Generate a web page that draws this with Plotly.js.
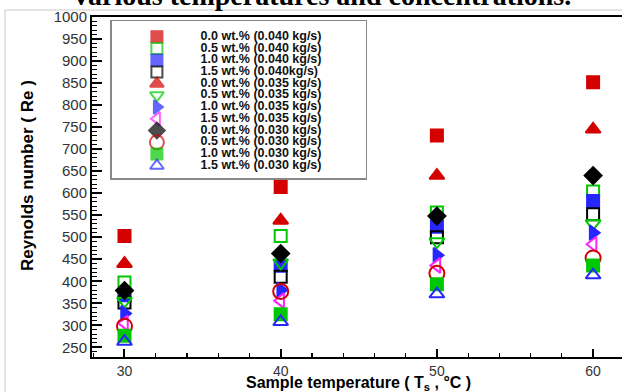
<!DOCTYPE html>
<html><head><meta charset="utf-8">
<script src="https://cdn.plot.ly/plotly-3.0.1.min.js"></script>
<style>html,body{margin:0;padding:0;background:#fff}#chart{width:622px;height:392px}</style>
</head><body><div id="chart"></div>
<script>
// ---- data ----
const temperatures = [30, 40, 50, 60];
const seriesLabels = [
  "0.0 wt.% (0.040 kg/s)", "0.5 wt.% (0.040 kg/s)", "1.0 wt.% (0.040 kg/s)", "1.5 wt.% (0.040kg/s)",
  "0.0 wt.% (0.035 kg/s)", "0.5 wt.% (0.035 kg/s)", "1.0 wt.% (0.035 kg/s)", "1.5 wt.% (0.035 kg/s)",
  "0.0 wt.% (0.030 kg/s)", "0.5 wt.% (0.030 kg/s)", "1.0 wt.% (0.030 kg/s)", "1.5 wt.% (0.030 kg/s)"
];
const re_00_040 = [503, 614, 731, 852];
const re_05_040 = [397, 503, 556, 604];
const re_10_040 = [368, 435, 524, 582];
const re_15_040 = [352, 410, 500, 552];
const re_00_035 = [440, 538, 640, 745];
const re_05_035 = [355, 442, 490, 531];
const re_10_035 = [327, 380, 459, 510];
const re_15_035 = [305, 356, 436, 484];
const re_00_030 = [379, 463, 548, 640];
const re_05_030 = [298, 377, 418, 453];
const re_10_030 = [276, 325, 393, 436];
const re_15_030 = [263, 308, 371, 414];
const xTickLabels = ["30", "40", "50", "60"];

// ---- styles ----
const allSeries = [re_00_040, re_05_040, re_10_040, re_15_040, re_00_035, re_05_035,
                   re_10_035, re_15_035, re_00_030, re_05_030, re_10_030, re_15_030];
const RED = "#d40000", GREEN = "#00c800", BLUE = "#2626ff", BLACK = "#000000", MAGENTA = "#ff22ff";
const styles = [
  {symbol: "square", color: RED, size: 12},
  {symbol: "square-open", color: GREEN, size: 12},
  {symbol: "square", color: BLUE, size: 12},
  {symbol: "square-open", color: BLACK, size: 12},
  {symbol: "triangle-up", color: RED, size: 13},
  {symbol: "triangle-down-open", color: GREEN, size: 13},
  {symbol: "triangle-right", color: BLUE, size: 13},
  {symbol: "triangle-left-open", color: MAGENTA, size: 13},
  {symbol: "diamond", color: BLACK, size: 13},
  {symbol: "circle-open", color: RED, size: 15},
  {symbol: "square", color: GREEN, size: 12},
  {symbol: "triangle-up-open", color: BLUE, size: 13}
];

const traces = [];
allSeries.forEach((vals, i) => {
  const st = styles[i];
  traces.push({
    type: "scatter", mode: "markers", x: temperatures, y: vals, name: seriesLabels[i],
    showlegend: false, hoverinfo: "x+y+name",
    marker: {symbol: st.symbol, size: st.size, color: st.color, line: {color: st.color, width: 2}}
  });
});
// manual compact legend (on its own small axes)
const rowIdx = seriesLabels.map((_, i) => i);
traces.push({
  type: "scatter", mode: "markers", xaxis: "x2", yaxis: "y2",
  x: rowIdx.map(() => 0.178), y: rowIdx, showlegend: false, hoverinfo: "skip",
  marker: {
    symbol: styles.map(s => s.symbol), size: styles.map(s => s.size - 1),
    color: styles.map(s => s.color), line: {color: styles.map(s => s.color), width: 2}
  }
});
traces.push({
  type: "scatter", mode: "text", xaxis: "x2", yaxis: "y2",
  x: rowIdx.map(() => 0.35), y: rowIdx, text: seriesLabels, textposition: "middle right",
  showlegend: false, hoverinfo: "skip",
  textfont: {family: "Liberation Sans, Arial, sans-serif", size: 12.5, color: "#111", weight: "bold"}
});

const L = 92, T = 17, W = 530, H = 340;
const px2x = p => (p - L) / W;
const px2y = p => 1 - (p - T) / H;

const layout = {
  width: 622, height: 392,
  margin: {l: L, r: 0, t: T, b: 392 - T - H},
  paper_bgcolor: "#fff", plot_bgcolor: "#fff",
  font: {family: "Liberation Sans, Arial, sans-serif", color: "#222"},
  xaxis: {
    range: [27.92, 61.85], tickvals: temperatures, ticktext: xTickLabels,
    ticks: "inside", ticklen: 8, tickwidth: 2, tickcolor: "#000",
    minor: {dtick: 2, tick0: 0, ticks: "inside", ticklen: 4, tickwidth: 1.2, tickcolor: "#000", showgrid: false},
    showline: true, linecolor: "#000", linewidth: 2, mirror: true,
    showgrid: false, zeroline: false, tickfont: {size: 14, color: "#333"}
  },
  yaxis: {
    range: [228, 1000], tick0: 250, dtick: 50,
    ticks: "inside", ticklen: 10, tickwidth: 2, tickcolor: "#000",
    minor: {dtick: 10, ticks: "inside", ticklen: 5, tickwidth: 1, tickcolor: "#000", showgrid: false},
    showline: true, linecolor: "#000", linewidth: 2, mirror: false,
    showgrid: false, zeroline: false, tickfont: {size: 15, color: "#333"}
  },
  xaxis2: {
    domain: [px2x(111.7), px2x(365.7)], anchor: "y2", range: [0, 1],
    showline: true, mirror: true, linecolor: "#888", linewidth: 1.5,
    showticklabels: false, ticks: "", showgrid: false, zeroline: false, fixedrange: true
  },
  yaxis2: {
    domain: [px2y(178.3), px2y(21)], anchor: "x2", range: [12.07, -1.34],
    showline: true, mirror: true, linecolor: "#888", linewidth: 1.5,
    showticklabels: false, ticks: "", showgrid: false, zeroline: false, fixedrange: true
  },
  shapes: [{
    type: "rect", xref: "paper", yref: "paper",
    x0: px2x(5), x1: px2x(700), y0: px2y(420), y1: px2y(10),
    line: {color: "#c8c8c8", width: 1}, layer: "below"
  }],
  annotations: [
    {text: "various temperatures and concentrations.", xref: "paper", yref: "paper",
     x: px2x(322), y: px2y(13), xanchor: "center", yanchor: "bottom", showarrow: false,
     font: {family: "Liberation Serif, Times New Roman, serif", size: 28, color: "#000", weight: "bold"}},
    {text: "Reynolds number ( Re )", xref: "paper", yref: "paper",
     x: px2x(27), y: px2y(176), xanchor: "center", yanchor: "middle", textangle: -90, showarrow: false,
     font: {size: 17, color: "#000", weight: "bold"}},
    {text: "Sample temperature ( T<sub>s</sub> , °C )", xref: "paper", yref: "paper",
     x: px2x(358), y: px2y(383.5), xanchor: "center", yanchor: "middle", showarrow: false,
     font: {size: 16, color: "#000", weight: "bold"}}
  ]
};

Plotly.newPlot("chart", traces, layout, {displayModeBar: false, staticPlot: true});
</script>
</body></html>
